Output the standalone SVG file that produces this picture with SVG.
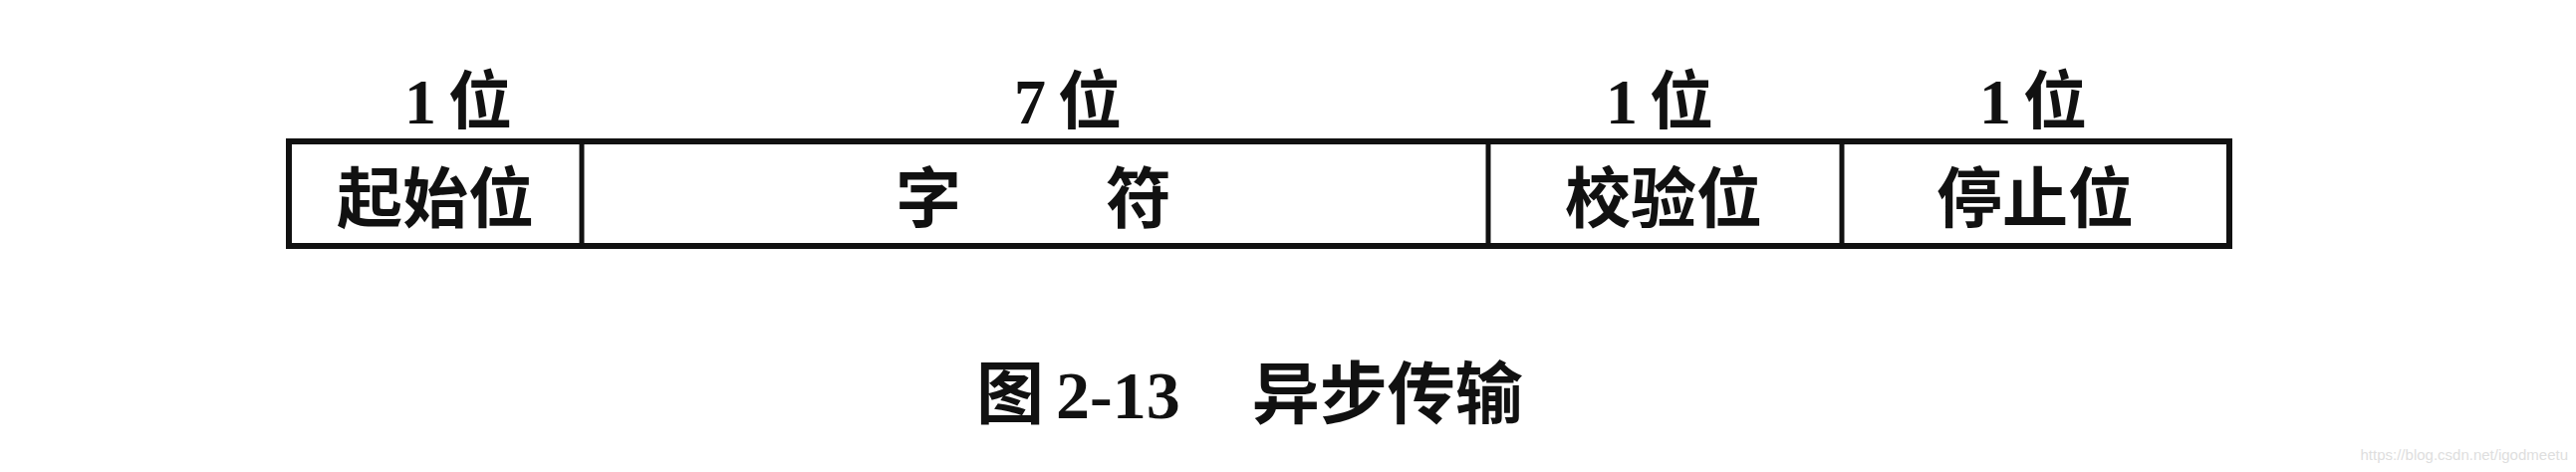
<svg xmlns="http://www.w3.org/2000/svg" width="2586" height="474" viewBox="0 0 2586 474">
<style>
.box{fill:none;stroke:#111;stroke-width:6}
.div{stroke:#111;stroke-width:5}
.cn{font-family:"Noto Sans CJK SC","Noto Sans CJK JP",sans-serif;font-weight:700;fill:#111}
.num{font-family:"Liberation Serif",serif;font-weight:bold;fill:#111}
.lbl{font-size:66px;text-anchor:middle}
.top{font-size:64px;text-anchor:middle}
.wm{font-family:"Liberation Sans",sans-serif;font-size:15px;fill:#dedede;text-anchor:end}
</style>
<rect width="2586" height="474" fill="#fff"/>
<g id="frame">
<rect class="box" x="290" y="142" width="1948" height="105"/>
</g>
<g id="connectors">
<line class="div" x1="584" y1="142" x2="584" y2="247"/>
<line class="div" x1="1494" y1="142" x2="1494" y2="247"/>
<line class="div" x1="1849" y1="142" x2="1849" y2="247"/>
</g>
<g id="start">
<text class="top" x="460" y="124"><tspan class="num">1</tspan><tspan class="cn" dx="12">位</tspan></text>
<text class="cn lbl" x="437" y="223">起始位</text>
</g>
<g id="char">
<text class="top" x="1072" y="124"><tspan class="num">7</tspan><tspan class="cn" dx="12">位</tspan></text>
<text class="cn lbl" x="932" y="223">字</text>
<text class="cn lbl" x="1143" y="223">符</text>
</g>
<g id="parity">
<text class="top" x="1666" y="124"><tspan class="num">1</tspan><tspan class="cn" dx="12">位</tspan></text>
<text class="cn lbl" x="1670" y="223">校验位</text>
</g>
<g id="stop">
<text class="top" x="2041" y="124"><tspan class="num">1</tspan><tspan class="cn" dx="12">位</tspan></text>
<text class="cn lbl" x="2043" y="223">停止位</text>
</g>
<g id="caption">
<text x="980" y="420" font-size="68"><tspan class="cn">图</tspan><tspan class="num" dx="12">2-13</tspan><tspan class="cn" dx="72">异步传输</tspan></text>
</g>
<text class="wm" x="2578" y="462">https://blog.csdn.net/igodmeetu</text>
</svg>
